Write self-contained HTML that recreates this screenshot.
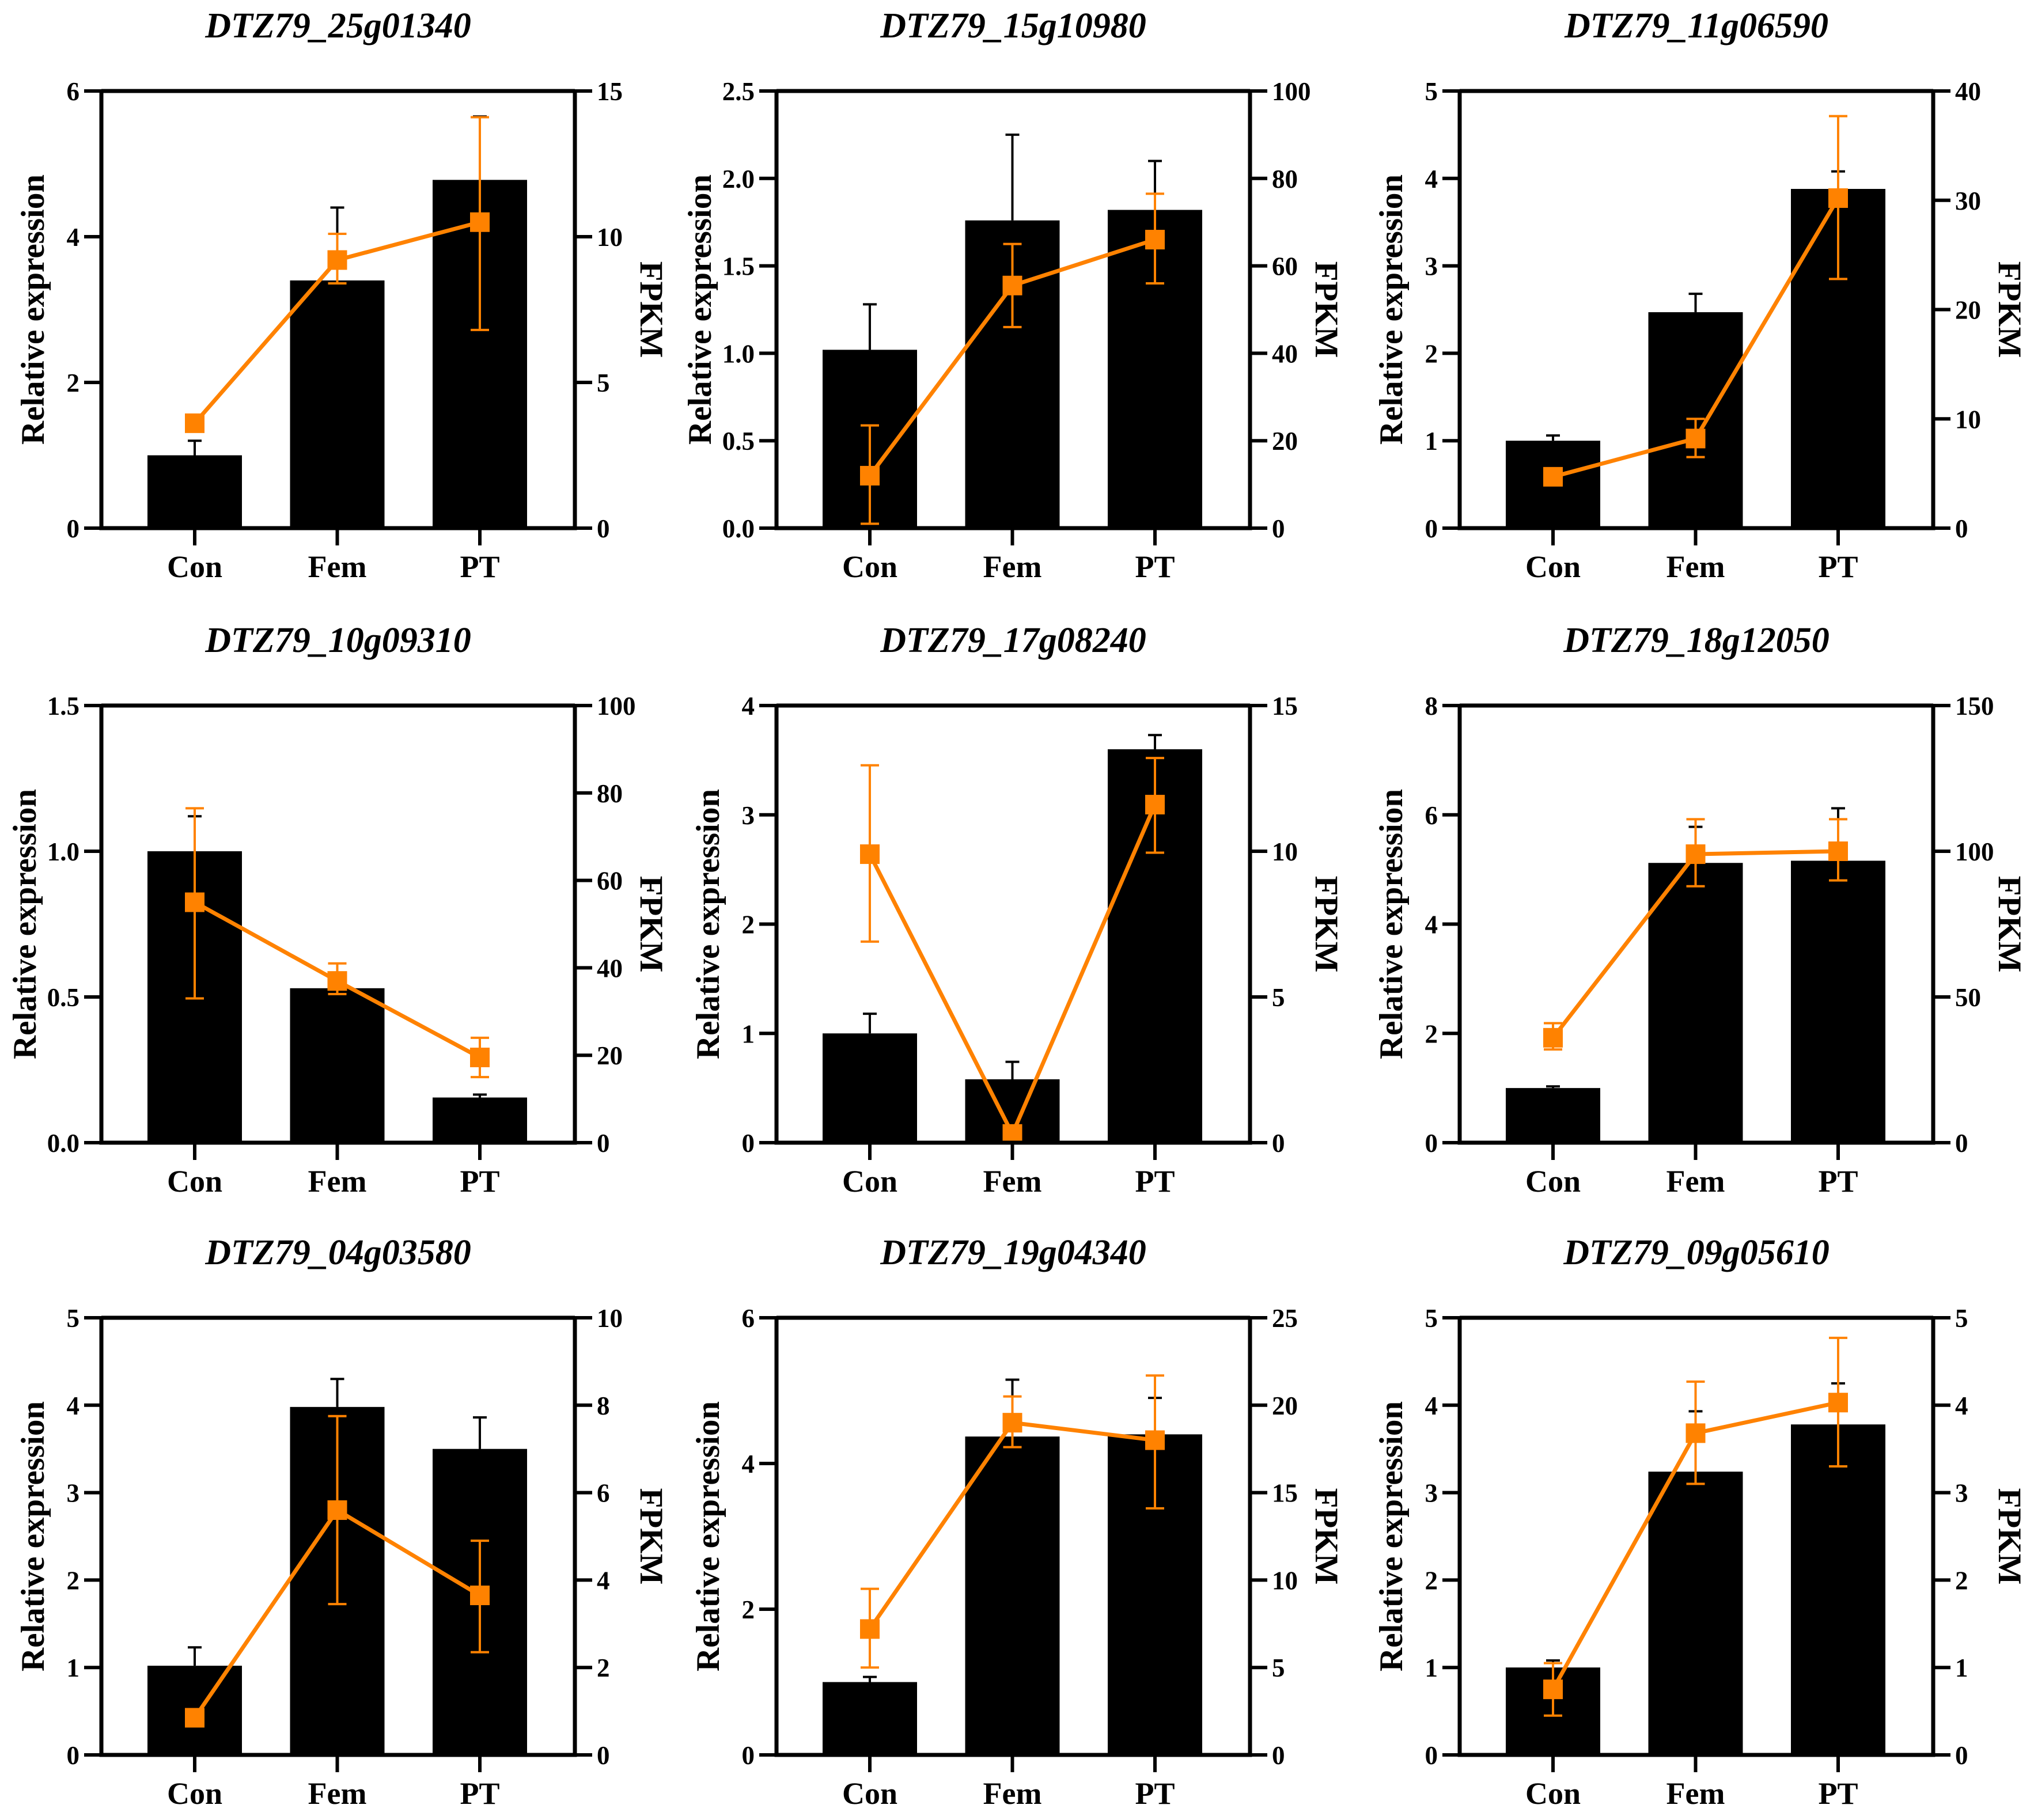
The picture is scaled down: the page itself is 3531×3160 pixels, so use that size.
<!DOCTYPE html>
<html><head><meta charset="utf-8"><style>
html,body{margin:0;padding:0;background:#fff;}
svg{display:block;font-family:"Liberation Serif",serif;font-weight:bold;}
</style></head><body>
<svg id="fig" width="3531" height="3160" viewBox="0 0 3531 3160" xmlns="http://www.w3.org/2000/svg"></svg>
<script>
const titles=["DTZ79_25g01340","DTZ79_15g10980","DTZ79_11g06590","DTZ79_10g09310","DTZ79_17g08240","DTZ79_18g12050","DTZ79_04g03580","DTZ79_19g04340","DTZ79_09g05610"];
const categories=["Con","Fem","PT"];
const leftMax=[6,2.5,5,1.5,4,8,5,6,5];
const leftStep=[2,0.5,1,0.5,1,2,1,2,1];
const rightMax=[15,100,40,100,15,150,10,25,5];
const rightStep=[5,20,10,20,5,50,2,5,1];
const barVals=[[1.0,3.4,4.78],[1.02,1.76,1.82],[1.0,2.47,3.88],[1.0,0.53,0.155],[1.0,0.58,3.6],[1.0,5.12,5.16],[1.02,3.98,3.5],[1.0,4.37,4.4],[1.0,3.24,3.78]];
const barErrTop=[[1.2,4.4,5.65],[1.28,2.25,2.1],[1.06,2.68,4.08],[1.12,0.55,0.165],[1.18,0.74,3.73],[1.03,5.78,6.12],[1.23,4.3,3.86],[1.07,5.15,4.9],[1.08,3.93,4.25]];
const lineVals=[[3.6,9.2,10.5],[12,55.5,66],[4.7,8.2,30.2],[55,37,19.5],[9.9,0.3,11.6],[36,99,100],[0.85,5.6,3.65],[7.2,19,18],[0.75,3.68,4.03]];
const lineLo=[[3.6,8.4,6.8],[1,46,56],[4.5,6.5,22.8],[33,34,15],[6.9,0.3,9.95],[32,88,90],[0.85,3.45,2.35],[5,17.6,14.1],[0.45,3.1,3.3]];
const lineHi=[[3.6,10.1,14.1],[23.5,65,76.5],[4.9,10,37.7],[76.5,41,24],[12.95,0.3,13.2],[41,111,111],[0.85,7.75,4.9],[9.5,20.5,21.7],[1.05,4.27,4.77]];

const svg=document.getElementById('fig');
const NS="http://www.w3.org/2000/svg";
function mk(tag,attrs,parent,text){const e=document.createElementNS(NS,tag);for(const k in attrs)e.setAttribute(k,attrs[k]);if(text!==undefined)e.textContent=text;parent.appendChild(e);return e;}
const colX=[176,1348,2534], rowY=[158,1225,2288];
const PW=822, PH=759, ORANGE="#ff8200";
function fmt(v,step){return step<1?v.toFixed(1):String(Math.round(v));}
for(let p=0;p<9;p++){
  const x0=colX[p%3], y0=rowY[Math.floor(p/3)], x1=x0+PW, y1=y0+PH;
  const g=mk('g',{},svg);
  
  
  const yL=v=>y1-v/leftMax[p]*PH, yR=v=>y1-v/rightMax[p]*PH;
  const xC=i=>x0+162+i*247.5;
  const t=mk('text',{x:(x0+x1)/2,y:y0-93,'text-anchor':'middle','font-size':62,'font-style':'italic'},g,titles[p]);
  
  
  for(let i=0;i<3;i++){
    const b=mk('rect',{x:xC(i)-82,y:yL(barVals[p][i]),width:164,height:y1-yL(barVals[p][i]),fill:'#000'},g);
    
    
    const ey=yL(barErrTop[p][i]);
    const e=mk('path',{d:`M${xC(i)},${yL(barVals[p][i])}V${ey}M${xC(i)-12},${ey}H${xC(i)+12}`,stroke:'#000','stroke-width':4,fill:'none'},g);
    
    
  }
  for(let i=0;i<3;i++){
    const lo=yR(lineLo[p][i]),hi=yR(lineHi[p][i]);
    if(Math.abs(lo-hi)>2){
      const e=mk('path',{d:`M${xC(i)},${lo}V${hi}M${xC(i)-16},${lo}H${xC(i)+16}M${xC(i)-16},${hi}H${xC(i)+16}`,stroke:ORANGE,'stroke-width':4,fill:'none'},g);
      
      
    }
  }
  const pts=lineVals[p].map((v,i)=>xC(i)+','+yR(v)).join(' ');
  const l=mk('polyline',{points:pts,stroke:ORANGE,'stroke-width':7,fill:'none'},g);
  
  
  for(let i=0;i<3;i++){
    const m=mk('rect',{x:xC(i)-17,y:yR(lineVals[p][i])-17,width:34,height:34,fill:ORANGE},g);
    
    
  }
  const ax=mk('path',{d:`M${x0},${y0}H${x1}M${x0},${y0-3}V${y1}H${x1}V${y0-3}`,stroke:'#000','stroke-width':7,fill:'none'},g);
  
  
  for(let v=0;v<=leftMax[p]+1e-9;v+=leftStep[p]){
    mk('line',{x1:x0-30,x2:x0,y1:yL(v),y2:yL(v),stroke:'#000','stroke-width':6},g);
    const tl=mk('text',{x:x0-38,y:yL(v)+16,'text-anchor':'end','font-size':45},g,fmt(v,leftStep[p]));
    
    
  }
  for(let v=0;v<=rightMax[p]+1e-9;v+=rightStep[p]){
    mk('line',{x1:x1,x2:x1+30,y1:yR(v),y2:yR(v),stroke:'#000','stroke-width':6},g);
    const tr=mk('text',{x:x1+38,y:yR(v)+16,'text-anchor':'start','font-size':45},g,fmt(v,rightStep[p]));
    
    
  }
  for(let i=0;i<3;i++){
    mk('line',{x1:xC(i),x2:xC(i),y1:y1,y2:y1+30,stroke:'#000','stroke-width':6},g);
    const c=mk('text',{x:xC(i),y:y1+85,'text-anchor':'middle','font-size':54},g,categories[i]);
    
    
  }
  const off=leftStep[p]<1?114:100;
  const yt=mk('text',{x:0,y:0,'text-anchor':'middle','font-size':57,transform:`translate(${x0-off},${(y0+y1)/2}) rotate(-90)`},g,'Relative expression');
  
  
  const rt=mk('text',{x:0,y:0,'text-anchor':'middle','font-size':57,transform:`translate(${x1+114},${(y0+y1)/2}) rotate(90)`},g,'FPKM');
  
  
}
</script>
</body></html>
